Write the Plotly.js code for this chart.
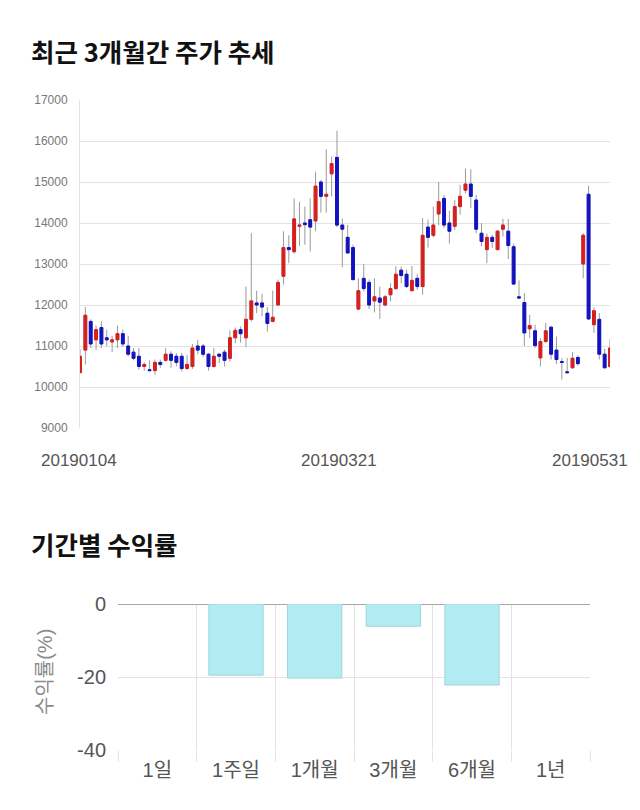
<!DOCTYPE html>
<html>
<head>
<meta charset="utf-8">
<script src="https://cdn.plot.ly/plotly-3.0.1.min.js"></script>
<style>html,body{margin:0;padding:0;background:#fff;}#chart{width:640px;height:810px;}</style>
</head>
<body>
<div id="chart"></div>
<script>
// ---- Stock price data (2019-01-04 .. 2019-05-31), Korean convention: red = up, blue = down
var dates = [
 '20190104','20190107','20190108','20190109','20190110','20190111','20190114','20190115','20190116','20190117',
 '20190118','20190121','20190122','20190123','20190124','20190125','20190128','20190129','20190130','20190131',
 '20190201','20190207','20190208','20190211','20190212','20190213','20190214','20190215','20190218','20190219',
 '20190220','20190221','20190222','20190225','20190226','20190227','20190228','20190304','20190305','20190306',
 '20190307','20190308','20190311','20190312','20190313','20190314','20190315','20190318','20190319','20190320',
 '20190321','20190322','20190325','20190326','20190327','20190328','20190329','20190401','20190402','20190403',
 '20190404','20190405','20190408','20190409','20190410','20190411','20190412','20190415','20190416','20190417',
 '20190418','20190419','20190422','20190423','20190424','20190425','20190426','20190429','20190430','20190502',
 '20190503','20190507','20190508','20190509','20190510','20190513','20190514','20190515','20190516','20190517',
 '20190520','20190521','20190522','20190523','20190524','20190527','20190528','20190529','20190530','20190531'
];
var openP = [
 10350,10900,11600,11150,11450,11200,11100,11150,11300,11000,
 10850,10750,10500,10420,10400,10600,10650,10800,10750,10750,
 10450,10500,11000,11000,10800,10500,10800,10850,10700,11200,
 11400,11200,11650,12050,12050,11800,11600,12000,12700,13400,
 13300,13920,14000,14080,14050,15000,14650,15200,15600,13950,
 13650,13400,11900,12650,12550,12100,12170,12000,12250,12400,
 12850,12750,12350,12650,12450,13900,13700,14220,14600,14000,
 13920,14400,14800,14950,14560,13750,13350,13650,13350,13850,
 13800,13420,12200,12060,11420,11370,10710,11110,11460,10900,
 10620,10370,10470,10720,13000,14700,11520,11650,10800,10500
];
var highP = [
 10930,11950,11650,11500,11600,11400,11250,11500,11400,11250,
 10950,10950,10600,10650,10670,10670,10950,10870,10830,10830,
 10780,11050,11150,11050,10830,10950,10830,10910,11380,11450,
 11480,12450,13750,12350,12270,11950,12350,12620,13800,13700,
 14600,14520,14400,14600,15250,15050,15800,15620,16250,14110,
 13950,13470,12650,13000,12620,12650,12450,12250,12530,12950,
 12940,12860,12950,12760,14120,14080,14400,15000,14680,14300,
 14560,14930,15330,15310,14690,14000,13750,13710,13830,14100,
 14100,13500,12600,12290,11760,11520,11190,11560,11480,11230,
 10700,10710,10850,10770,13750,14910,11940,11800,10930,11170
];
var lowP = [
 10350,10550,10950,10900,10950,11000,10850,10950,10980,10750,
 10650,10420,10400,10380,10300,10470,10620,10470,10500,10380,
 10420,10440,10800,10730,10400,10470,10580,10500,10620,11070,
 11080,10970,11600,11800,11720,11350,11580,12000,12500,13020,
 13250,13440,13470,13300,13800,14250,14250,14650,13900,12920,
 13250,12600,11880,12330,11900,11820,11660,11970,12090,12370,
 12530,12410,12330,12370,12250,13400,13650,13950,13870,13500,
 13830,14200,14720,14360,13750,13430,13020,13390,13350,13670,
 13120,12500,12160,11000,11200,10950,10500,11070,10670,10560,
 10180,10330,10440,10520,12650,11640,11320,10670,10440,10470
];
var closeP = [
 10750,11750,11050,11400,11050,11150,11150,11300,11050,10800,
 10700,10500,10550,10400,10600,10550,10800,10650,10600,10450,
 10550,10950,10900,10800,10500,10750,10750,10650,11200,11380,
 11300,11650,12100,12000,11950,11550,11700,12550,13400,13350,
 14100,13950,13960,13900,14900,14650,14700,15450,13950,13850,
 13270,12620,12350,12400,12000,12200,12070,12200,12400,12750,
 12720,12450,12600,12450,13700,13650,13950,14520,13950,13800,
 14400,14650,14950,14650,13850,13550,13650,13550,13800,13950,
 13450,12510,12170,11320,11500,11010,11110,11370,10800,10670,
 10600,10350,10700,10570,13700,11660,11860,10800,10470,10950
];
var shownDateLabels = ['20190104', '20190321', '20190531'];

// ---- Period returns
var periods = ['1일', '1주일', '1개월', '3개월', '6개월', '1년'];
var returns = [null, -19.5, -20.3, -6.1, -22.2, null];
var returnTicks = [-40, -20, 0];
var returnTickText = ['-40', '-20', '0'];

// ---- build
var idx = dates.map(function (d, i) { return i; });
var bodyHigh = openP.map(function (o, i) { return Math.max(o, closeP[i]); });
var bodyLow = openP.map(function (o, i) { return Math.min(o, closeP[i]); });

var RED = '#d81e1e', BLUE = '#1212c4', WICK = '#9a9a9a';

var wickTrace = {
  type: 'candlestick', x: idx, open: openP, high: highP, low: lowP, close: closeP,
  xaxis: 'x', yaxis: 'y', whiskerwidth: 0, hoverinfo: 'skip',
  increasing: { line: { color: WICK, width: 1 }, fillcolor: 'rgba(0,0,0,0)' },
  decreasing: { line: { color: WICK, width: 1 }, fillcolor: 'rgba(0,0,0,0)' }
};
var bodyTrace = {
  type: 'candlestick', x: idx, open: openP, high: bodyHigh, low: bodyLow, close: closeP,
  xaxis: 'x', yaxis: 'y', whiskerwidth: 0, text: dates,
  increasing: { line: { color: RED, width: 1 }, fillcolor: RED },
  decreasing: { line: { color: BLUE, width: 1 }, fillcolor: BLUE }
};
var barTrace = {
  type: 'bar', x: periods, y: returns, xaxis: 'x2', yaxis: 'y2',
  marker: { color: '#b2ebf2', line: { color: '#9ed6de', width: 1 } }
};

var W = 640, H = 810;
function px(x) { return x / W; }
function py(y) { return 1 - y / H; }

var FONT = 'Liberation Sans, Arial, Noto Sans CJK KR, sans-serif';
var annotations = [
  { text: '<b>최근 3개월간 주가 추세</b>', xref: 'paper', yref: 'paper', x: px(29), y: py(50),
    xanchor: 'left', yanchor: 'middle', showarrow: false,
    font: { family: 'Noto Sans CJK KR, sans-serif', size: 25.5, color: '#111' } },
  { text: '<b>기간별 수익률</b>', xref: 'paper', yref: 'paper', x: px(29), y: py(543),
    xanchor: 'left', yanchor: 'middle', showarrow: false,
    font: { family: 'Noto Sans CJK KR, sans-serif', size: 25.5, color: '#111' } },
  { text: '수익률(%)', xref: 'paper', yref: 'paper', x: px(45), y: py(672), textangle: -90,
    xanchor: 'center', yanchor: 'middle', showarrow: false,
    font: { family: FONT, size: 20, color: '#8a8a8a' } }
];
var labelX = [79, 339, 590];
shownDateLabels.forEach(function (d, k) {
  annotations.push({ text: d, xref: 'paper', yref: 'paper', x: px(labelX[k]), y: py(460),
    xanchor: 'center', yanchor: 'middle', showarrow: false,
    font: { family: FONT, size: 17, color: '#555' } });
});

var layout = {
  width: W, height: H, margin: { l: 0, r: 0, t: 0, b: 0 },
  paper_bgcolor: '#fff', plot_bgcolor: '#fff', showlegend: false,
  font: { family: FONT },
  boxgap: 0.25,
  bargap: 0.31,
  xaxis: { domain: [px(80), px(610)], range: [0, 99], type: 'linear', showgrid: false, zeroline: false,
    showticklabels: false, ticks: '', rangeslider: { visible: false }, fixedrange: true },
  yaxis: { domain: [py(428), py(100)], range: [9000, 17000], dtick: 1000, tick0: 9000, tickformat: 'd',
    tickfont: { size: 12, color: '#777', family: FONT }, gridcolor: '#e3e3e3', gridwidth: 1,
    showline: true, linecolor: '#e3e3e3', zeroline: false,
    ticks: 'outside', ticklen: 9, tickcolor: 'rgba(0,0,0,0)', fixedrange: true },
  xaxis2: { domain: [px(118), px(590)], anchor: 'y2', type: 'category', tickson: 'boundaries',
    ticks: 'outside', ticklen: 11, tickcolor: '#e3e3e3', showgrid: true, gridcolor: '#e3e3e3',
    ticklabelstandoff: 6,
    tickfont: { size: 20, color: '#555', family: FONT }, showline: false, zeroline: false, fixedrange: true },
  yaxis2: { domain: [py(750), py(604)], anchor: 'x2', range: [-40, 0],
    tickmode: 'array', tickvals: returnTicks, ticktext: returnTickText,
    gridcolor: '#e3e3e3', zeroline: true, zerolinecolor: '#a8a8a8', zerolinewidth: 1,
    tickfont: { size: 20, color: '#555', family: FONT },
    ticks: 'outside', ticklen: 7, tickcolor: 'rgba(0,0,0,0)', showline: false, fixedrange: true },
  annotations: annotations
};

Plotly.newPlot('chart', [wickTrace, bodyTrace, barTrace], layout, { displayModeBar: false, staticPlot: true });
</script>
</body>
</html>
